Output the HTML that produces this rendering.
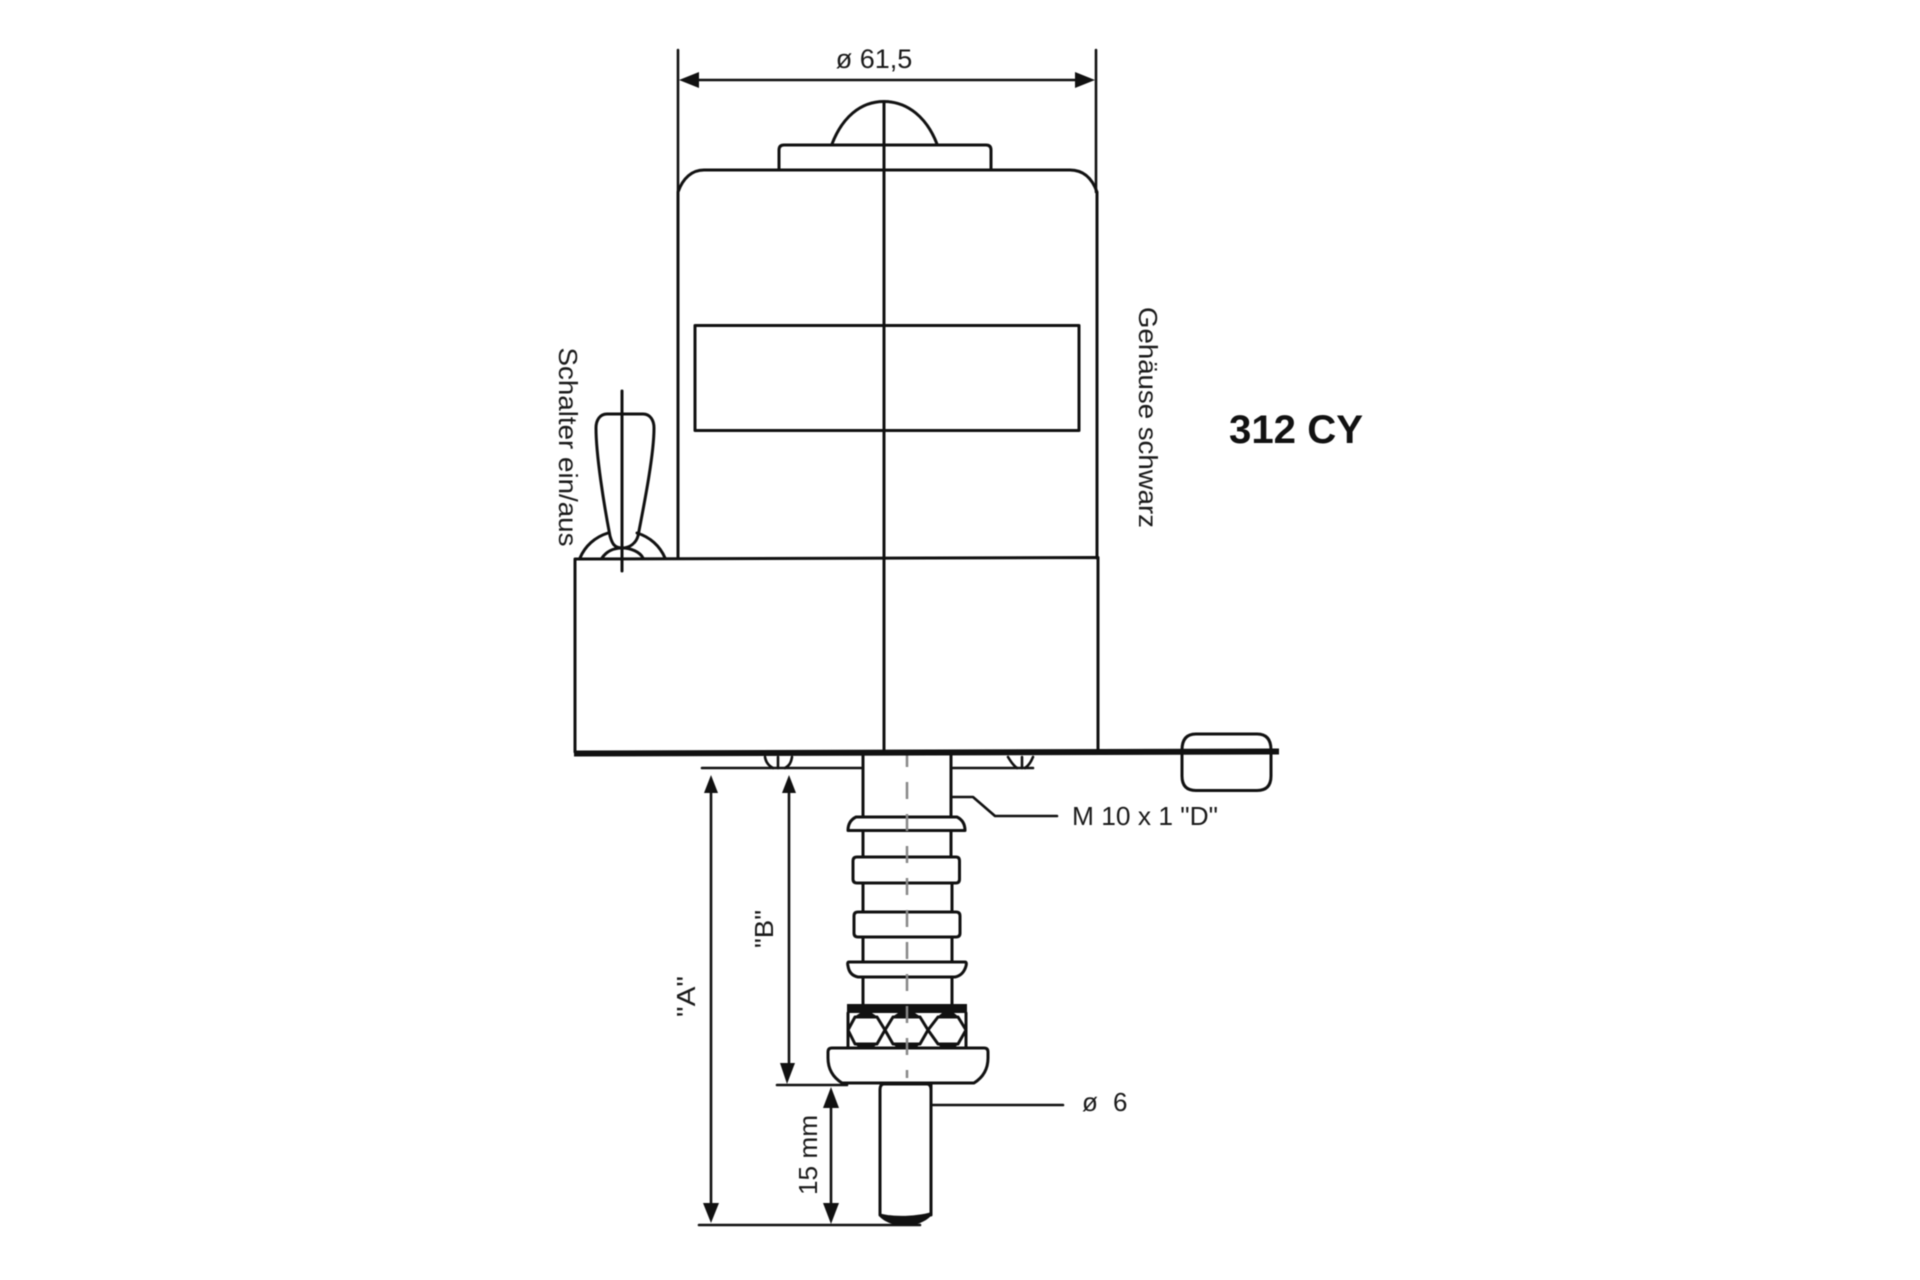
<!DOCTYPE html>
<html>
<head>
<meta charset="utf-8">
<style>
html,body{margin:0;padding:0;background:#fff;width:1920px;height:1280px;overflow:hidden}
svg{display:block}
text{font-family:"Liberation Sans",sans-serif;fill:#1a1a1a;font-size:26px}
.l{fill:none;stroke:#111;stroke-width:3;stroke-linejoin:round;stroke-linecap:round}
.t{fill:none;stroke:#111;stroke-width:2.600;stroke-linejoin:round;stroke-linecap:round}
.h{fill:#fff;stroke:#111;stroke-width:3;stroke-linejoin:round}
.a{fill:#111;stroke:none}
</style>
</head>
<body>
<svg width="1920" height="1280" viewBox="0 0 1920 1280" xmlns="http://www.w3.org/2000/svg">
<rect width="1920" height="1280" fill="#fff"/>
<g style="filter:blur(0.6px)">
<!-- top dimension -->
<path class="t" d="M678 50V192M1096 50V192M690 80H1084"/>
<polygon class="a" points="679,80 699,72 699,88"/>
<polygon class="a" points="1095,80 1075,72 1075,88"/>
<text x="874" y="68" text-anchor="middle" style="font-size:27px">ø 61,5</text>

<!-- dome + pedestal -->
<path class="l" d="M832 144C842 118 860 101.500 884 101.500C908 101.500 927 118 937 144"/>
<path class="l" d="M779 169V150Q779 145 784 145H986Q991 145 991 150V169"/>

<!-- body -->
<path class="l" d="M678 558V192C683 178 692 170 704 170H1070C1083 170 1092 178 1097 192V558"/>
<rect class="l" x="695" y="325.500" width="384" height="105"/>

<!-- lower box -->
<path class="l" d="M575 752V559L1098 557.500V752"/>

<!-- centre line -->
<path class="l" d="M884 101.500V752"/>

<!-- toggle -->
<path class="l" d="M622 391V571"/>
<path class="l" d="M607 414H643C650 414 654 420 654 428C654 455 644 505 638 536C636 543 630 548 622 548C614 548 612 543 610 536C604 505 596 455 596 428C596 420 600 414 607 414Z"/>
<path class="l" d="M580 558C585 546 595 537 608 533M637 533C650 537 660 546 665 558"/>
<path class="l" d="M602 558C606 552 613 548 622 548C631 548 640 552 643 558"/>
<text transform="translate(559,347.500) rotate(90)" textLength="199" lengthAdjust="spacingAndGlyphs">Schalter ein/aus</text>
<text transform="translate(1139,307) rotate(90)" textLength="221" lengthAdjust="spacingAndGlyphs">Gehäuse schwarz</text>
<text x="1229" y="443" textLength="134" lengthAdjust="spacingAndGlyphs" style="font-weight:bold;font-size:40px;fill:#111">312 CY</text>

<!-- knob at right -->
<path class="l" d="M1196 734H1257Q1271 734 1271 750V776Q1271 790.500 1257 790.500H1196Q1182 790.500 1182 776V750Q1182 734 1196 734Z"/>

<!-- panel underside -->
<path class="t" d="M702 768H861M953 768H1033"/>
<path class="t" d="M765 757C766 763 769 766 773 768M792 757C791 763 789 766 785 768M778 757V768"/>
<path class="t" d="M1008 757C1011 762 1014 766 1017 768M1033 757C1031 762 1028 766 1025 768M1022 757V768"/>

<!-- stud -->
<path class="l" d="M863 754V817M951 754V817"/>
<path class="l" d="M856 817H957C961 819 965 823 965 830.500H848C848 823 852 819 856 817Z"/>
<path class="l" d="M863 831V857M951 831V857"/>
<path class="l" d="M857 857H956Q959.500 857 959.500 861V879Q959.500 883 956 883H857Q853 883 853 879V861Q853 857 857 857Z"/>
<path class="l" d="M863 883V912M952 883V912"/>
<path class="l" d="M858 912H956Q960 912 960 916V933Q960 937 956 937H858Q854 937 854 933V916Q854 912 858 912Z"/>
<path class="l" d="M863 937V962M952 937V962"/>
<path class="l" d="M849 962H965Q967 962 966 966C964 973 960 976 955 977H858C853 976 849 973 848 966Q847 962 849 962Z"/>
<path class="l" d="M863 977V1004M952 977V1004"/>

<!-- washer + nut -->
<rect x="847" y="1004" width="120" height="9" fill="#111"/>
<path class="l" d="M848 1013V1047M966 1013V1047"/>
<polygon class="h" points="855,1017 877,1017 885,1030 877,1044 855,1044 848,1030"/>
<polygon class="h" points="893,1017 920,1017 928,1030 920,1044 893,1044 885,1030"/>
<polygon class="h" points="938,1017 958,1017 966,1030 958,1044 938,1044 928,1030"/>
<polygon class="a" points="854,1017 878,1017 872,1013 860,1013"/>
<polygon class="a" points="892,1017 921,1017 915,1013 898,1013"/>
<polygon class="a" points="937,1017 959,1017 954,1013 942,1013"/>
<polygon class="a" points="854,1044 878,1044 872,1048 860,1048"/>
<polygon class="a" points="892,1044 921,1044 915,1048 898,1048"/>
<polygon class="a" points="937,1044 959,1044 954,1048 942,1048"/>

<!-- cap -->
<path class="l" d="M832 1048H984Q988 1048 988 1052V1058C988 1070 982 1078 974 1083H842C834 1078 828 1070 828 1058V1052Q828 1048 832 1048Z"/>

<!-- shaft -->
<path class="l" d="M884 1084Q880 1084 880 1090V1215M931 1084V1215M884 1084H927Q931 1084 931 1090"/>
<path d="M879 1213C890 1217 915 1217 932 1212L931 1216C925 1222 915 1226 905 1226C895 1226 884 1222 879 1216Z" fill="#111"/>

<!-- dashed centre -->
<path d="M907 750V1078" fill="none" stroke="#888" stroke-width="2.500" stroke-dasharray="17 15"/>

<!-- plate drawn above the dashed centre line -->
<path d="M574 753.500L1279 751.500" fill="none" stroke="#111" stroke-width="6"/>

<!-- leaders -->
<path class="t" d="M952 797H973L995 816H1057"/>
<text x="1072" y="825" textLength="146" lengthAdjust="spacingAndGlyphs">M 10 x 1 "D"</text>
<path class="t" d="M932 1105H1063"/>
<text x="1082" y="1111">ø</text>
<text x="1113" y="1111">6</text>

<!-- vertical dimensions -->
<path class="t" d="M711 785V1205M789 785V1065M831 1105V1205"/>
<polygon class="a" points="711,775 704,793 718,793"/>
<polygon class="a" points="789,775 782,793 796,793"/>
<polygon class="a" points="711,1223 703,1203 719,1203"/>
<polygon class="a" points="787,1084 780,1063 795,1063"/>
<polygon class="a" points="831,1087 823,1108 839,1108"/>
<polygon class="a" points="831,1224 823,1203 839,1203"/>
<path class="t" d="M777 1085H847M699 1225H920"/>

<text transform="translate(695,1017) rotate(-90)" textLength="41" lengthAdjust="spacingAndGlyphs">"A"</text>
<text transform="translate(773,948) rotate(-90)" textLength="38" lengthAdjust="spacingAndGlyphs">"B"</text>
<text transform="translate(817,1195) rotate(-90)" textLength="80" lengthAdjust="spacingAndGlyphs">15 mm</text>
</g>
</svg>
</body>
</html>
